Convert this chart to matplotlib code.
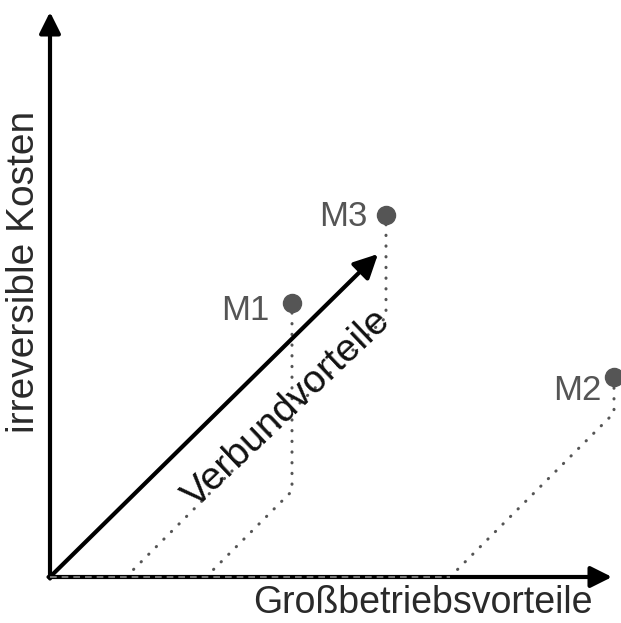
import matplotlib.pyplot as plt

plt.rcParams['font.family'] = ['Liberation Sans', 'DejaVu Sans']

# models: where the scope diagonal meets the x axis, its extent, and height
models = ['M1', 'M2', 'M3']
x_base = [156, 400, 76]
scope = [86, 164, 260]
height = [274, 200, 362]

axis_len = 562
verbund_tip = (328, 323)

# label offsets (right edge / vertical centre relative to the dot)
label_dx = [-23, -12, -18]
label_dy = [-8, -14, -2]

fig = plt.figure(figsize=(6.21, 6.23), dpi=100)
ax = fig.add_axes([0, 0, 1, 1])
ax.set_xlim(-50, 571)
ax.set_ylim(-46, 577)
ax.axis('off')

grey = '#555555'
arrow = dict(arrowstyle='-|>', lw=3, color='black', mutation_scale=32,
             shrinkA=0, shrinkB=0)

# axes
ax.annotate('', xy=(axis_len, 0), xytext=(-1.5, 0), arrowprops=arrow)
ax.annotate('', xy=(0, axis_len + 3), xytext=(0, -1.5), arrowprops=arrow)
ax.plot([0, max(x_base)], [0, 0], color='#8a8a8a', lw=1.2, ls=(0, (4, 3)), zorder=5)

# dotted paths to each model
for name, xb, s, h, dx, dy in zip(models, x_base, scope, height, label_dx, label_dy):
    px = xb + s
    ax.plot([xb, px, px], [0, s, h], color=grey, lw=2.2, ls=(0, (0.1, 3.4)),
            dash_capstyle='round', zorder=2)
    ax.plot(px, h, 'o', color=grey, ms=13, zorder=4, clip_on=False)
    ax.text(px + dx, h + dy, name, color=grey, fontsize=25, ha='right', va='center')

# scope arrow
ax.annotate('', xy=verbund_tip, xytext=(0, 0),
            arrowprops=dict(arrow, mutation_scale=36))
ax.text(237, 168, 'Verbundvorteile', rotation=43.5, rotation_mode='anchor',
        ha='center', va='center', fontsize=28, color='#111111', zorder=6)

ax.text(-26, 305, 'irreversible Kosten', rotation=90, ha='center', va='center',
        fontsize=28, color='#2a2a2a')
ax.text(373, -36, 'Großbetriebsvorteile', ha='center', va='baseline',
        fontsize=27, color='#2a2a2a')

fig.savefig('out.png', dpi=100)
